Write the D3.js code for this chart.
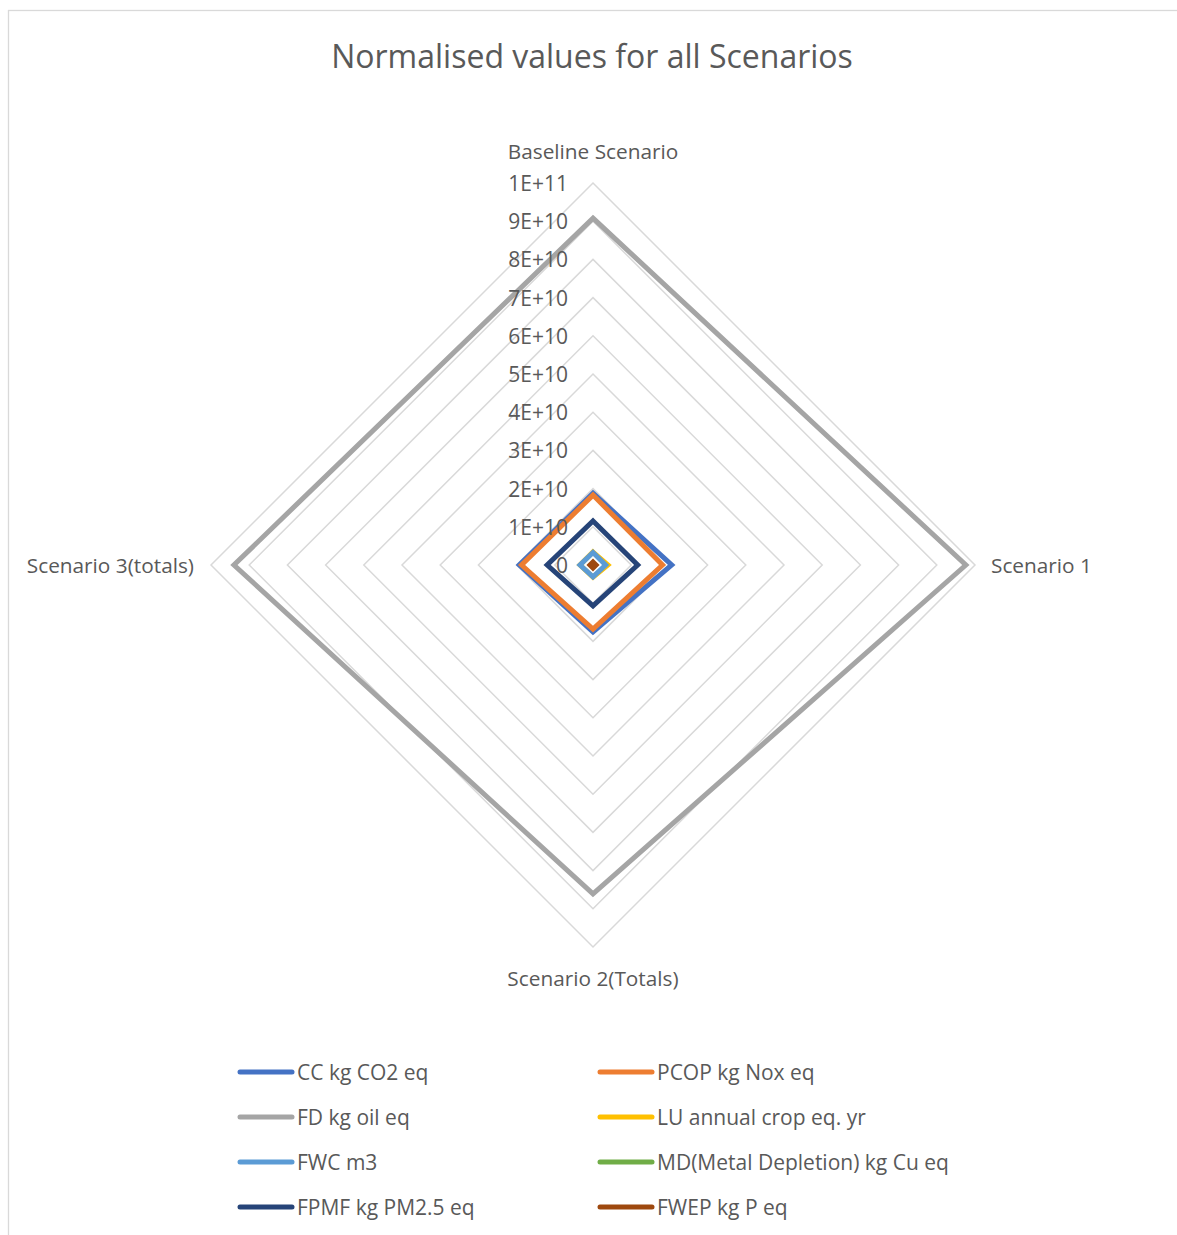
<!DOCTYPE html>
<html>
<head>
<meta charset="utf-8">
<script src="https://cdn.jsdelivr.net/npm/d3@7"></script>
<style>
  html, body { margin: 0; padding: 0; background: #fff; }
  svg { display: block; font-family: "Open Sans", "Noto Sans", sans-serif; }
</style>
</head>
<body>
<svg id="chart" width="1177" height="1235"></svg>
<script>
// Axes of the radar, clockwise from the top
const categories = ["Baseline Scenario", "Scenario 1", "Scenario 2(Totals)", "Scenario 3(totals)"];

// Impact categories (one closed polygon each)
const seriesNames = [
  "CC kg CO2 eq", "PCOP kg Nox eq", "FD kg oil eq", "LU annual crop eq. yr",
  "FWC m3", "MD(Metal Depletion) kg Cu eq", "FPMF kg PM2.5 eq", "FWEP kg P eq"
];
const seriesColors = ["#4472c4", "#ed7d31", "#a5a5a5", "#ffc000", "#5b9bd5", "#70ad47", "#264478", "#9e480e"];

// Normalised values per scenario
const ccValues   = [1.88e10, 2.06e10, 1.75e10, 1.93e10];
const pcopValues = [1.83e10, 1.82e10, 1.68e10, 1.87e10];
const fdValues   = [9.08e10, 9.76e10, 8.61e10, 9.40e10];
const luValues   = [3.4e9, 3.9e9, 3.2e9, 3.4e9];
const fwcValues  = [3.3e9, 3.3e9, 3.1e9, 3.4e9];
const mdValues   = [2.0e8, 2.0e8, 2.0e8, 2.0e8];
const fpmfValues = [1.15e10, 1.17e10, 1.07e10, 1.20e10];
const fwepValues = [8.0e8, 8.0e8, 8.0e8, 8.0e8];
const seriesValues = [ccValues, pcopValues, fdValues, luValues, fwcValues, mdValues, fpmfValues, fwepValues];

// Radial axis ticks
const tickValues = [0, 1e10, 2e10, 3e10, 4e10, 5e10, 6e10, 7e10, 8e10, 9e10, 1e11];
const tickLabels = ["0", "1E+10", "2E+10", "3E+10", "4E+10", "5E+10", "6E+10", "7E+10", "8E+10", "9E+10", "1E+11"];

const svg = d3.select("#chart");
const cx = 593, cy = 565, R = 382;

// Chart frame
svg.append("rect")
  .attr("x", 8.5).attr("y", 10.5).attr("width", 1180).attr("height", 1240)
  .attr("fill", "#fff").attr("stroke", "#d9d9d9").attr("stroke-width", 1.3);

// Title
svg.append("text")
  .attr("x", 592).attr("y", 55)
  .attr("text-anchor", "middle").attr("dominant-baseline", "central")
  .attr("fill", "#595959").attr("font-size", 32)
  .text("Normalised values for all Scenarios");

const r = d3.scaleLinear().domain([0, 1e11]).range([0, R]);
const angle = d3.scalePoint().domain(categories).range([0, 2 * Math.PI * 3 / 4]);

const g = svg.append("g").attr("transform", `translate(${cx},${cy})`);

const radial = d3.lineRadial()
  .angle((d, i) => angle(categories[i]))
  .radius(d => r(d))
  .curve(d3.curveLinearClosed);

// Gridline diamonds
g.append("g").selectAll("path")
  .data(tickValues.slice(1))
  .join("path")
  .attr("d", v => radial(categories.map(() => v)))
  .attr("fill", "none")
  .attr("stroke", "#d9d9d9")
  .attr("stroke-width", 1.5);

// Series polygons
g.append("g").selectAll("path")
  .data(seriesValues)
  .join("path")
  .attr("d", vals => radial(vals))
  .attr("fill", "none")
  .attr("stroke", (d, i) => seriesColors[i])
  .attr("stroke-width", 5)
  .attr("stroke-linejoin", "miter");

// Radial tick labels along the top axis
g.append("g").selectAll("text")
  .data(tickValues)
  .join("text")
  .attr("x", -25)
  .attr("y", v => -r(v))
  .attr("text-anchor", "end")
  .attr("dominant-baseline", "central")
  .attr("fill", "#595959")
  .attr("font-size", 21)
  .text((v, i) => tickLabels[i]);

// Category labels
const catPos = [
  { x: 0, y: -414, anchor: "middle" },
  { x: 398, y: 0, anchor: "start" },
  { x: 0, y: 413, anchor: "middle" },
  { x: -399, y: 0, anchor: "end" }
];
g.append("g").selectAll("text")
  .data(categories)
  .join("text")
  .attr("x", (d, i) => catPos[i].x)
  .attr("y", (d, i) => catPos[i].y)
  .attr("text-anchor", (d, i) => catPos[i].anchor)
  .attr("dominant-baseline", "central")
  .attr("fill", "#595959")
  .attr("font-size", 20.8)
  .text(d => d);

// Legend, two columns
const legend = svg.append("g");
const item = legend.selectAll("g")
  .data(seriesNames)
  .join("g")
  .attr("transform", (d, i) => `translate(${i % 2 === 0 ? 240 : 600},${1072 + Math.floor(i / 2) * 45})`);
item.append("line")
  .attr("x1", 0).attr("x2", 52).attr("y1", 0).attr("y2", 0)
  .attr("stroke", (d, i) => seriesColors[i])
  .attr("stroke-width", 5)
  .attr("stroke-linecap", "round");
item.append("text")
  .attr("x", 57).attr("y", 0)
  .attr("dominant-baseline", "central")
  .attr("fill", "#595959")
  .attr("font-size", 21)
  .text(d => d);
</script>
</body>
</html>
